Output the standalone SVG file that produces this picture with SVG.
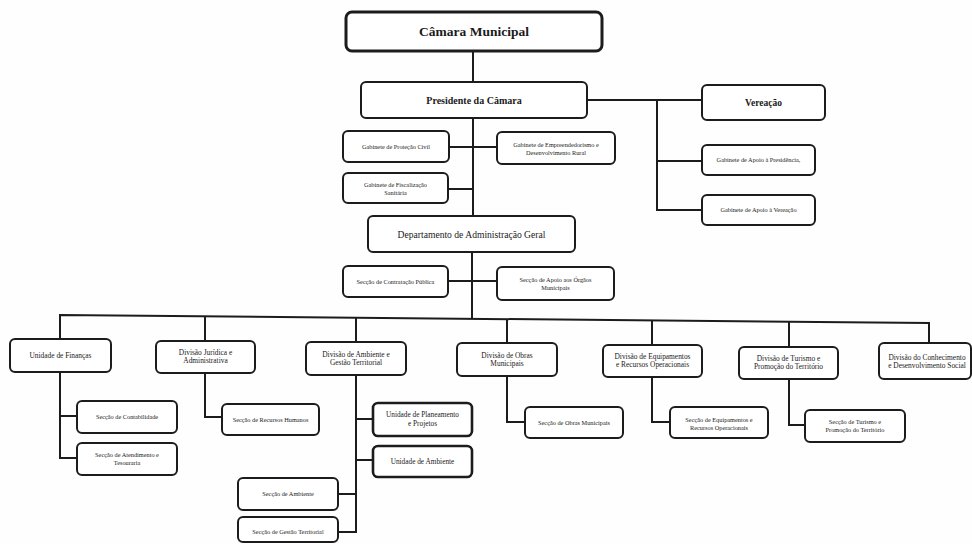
<svg xmlns="http://www.w3.org/2000/svg" width="972" height="544" viewBox="0 0 972 544">
<style>
.bg{fill:#fefefe}
.box{fill:#ffffff;stroke:#1c1c1c;stroke-width:2}
.heavy{stroke-width:3}
.mid{stroke-width:2.6}
.con{fill:none;stroke:#1c1c1c;stroke-width:2;stroke-linejoin:miter}
text{font-family:"Liberation Serif","Times New Roman",serif;fill:#1a1a1a;text-anchor:middle}
.t1{font-size:13.5px;font-weight:bold}
.t2{font-size:10px;font-weight:bold}
.t3{font-size:9.6px}
.div{font-size:7.4px}
.sm{font-size:6.3px}
</style>
<rect class="bg" x="0" y="0" width="972" height="544"/>
<g id="connectors">
<path class="con" d="M473 51V82"/>
<path class="con" d="M473 118V216"/>
<path class="con" d="M472 252V319"/>
<path class="con" d="M587 100H702"/>
<path class="con" d="M657 100V210H702M657 161H702"/>
<path class="con" d="M449 147H497M448 189H473"/>
<path class="con" d="M448 281H497"/>
<path class="con" d="M60 339V315L929 323V343"/>
<path class="con" d="M205 316.3V341M356 317.7V342M507 319.1V343M652 320.4V345M789 321.7V347"/>
<path class="con" d="M60 372V458H77M60 416H77"/>
<path class="con" d="M205 373V417H222"/>
<path class="con" d="M356 375V532H338M356 419H373M356 460H373M338 494H356"/>
<path class="con" d="M507 376V422H525"/>
<path class="con" d="M652 377V422H670"/>
<path class="con" d="M789 379V425H805"/>
</g>
<g id="camara-municipal"><rect class="box heavy" x="346" y="12" width="256" height="39" rx="6"/><text class="t1" x="474" y="36">Câmara Municipal</text></g>
<g id="presidente"><rect class="box" x="361" y="82" width="226" height="36" rx="5"/><text class="t2" x="474" y="103.5">Presidente da Câmara</text></g>
<g id="vereacao"><rect class="box" x="702" y="85" width="123" height="35" rx="5"/><text class="t2" x="763.5" y="106" style="font-size:9.5px">Vereação</text></g>
<g id="gab-protecao-civil"><rect class="box" x="343" y="131" width="106" height="31" rx="5"/><text class="sm" x="396" y="148.7">Gabinete de Proteção Civil</text></g>
<g id="gab-empreendedorismo"><rect class="box" x="497" y="132" width="118" height="32" rx="5"/><text class="sm" x="556" y="146.5">Gabinete de Empreendedorismo e</text><text class="sm" x="556" y="154.5">Desenvolvimento Rural</text></g>
<g id="gab-fiscalizacao"><rect class="box" x="343" y="173" width="105" height="30" rx="5"/><text class="sm" x="395.5" y="187">Gabinete de Fiscalização</text><text class="sm" x="395.5" y="195">Sanitária</text></g>
<g id="gab-apoio-presidencia"><rect class="box" x="702" y="145" width="113" height="30" rx="5"/><text class="sm" x="758.5" y="162">Gabinete de Apoio à Presidência,</text></g>
<g id="gab-apoio-vereacao"><rect class="box" x="702" y="195" width="113" height="30" rx="5"/><text class="sm" x="758.5" y="212">Gabinete de Apoio à Vereação</text></g>
<g id="departamento"><rect class="box" x="368" y="216" width="207" height="36" rx="5"/><text class="t3" x="471.5" y="237.5">Departamento de Administração Geral</text></g>
<g id="sec-contratacao"><rect class="box" x="343" y="266" width="105" height="31" rx="5"/><text class="sm" x="395.5" y="283.7">Secção de Contratação Pública</text></g>
<g id="sec-apoio-orgaos"><rect class="box" x="497" y="267" width="117" height="33" rx="5"/><text class="sm" x="555.5" y="281.5">Secção de Apoio aos Órgãos</text><text class="sm" x="555.5" y="289.5">Municipais</text></g>
<g id="unidade-financas"><rect class="box" x="10" y="339" width="101" height="33" rx="5"/><text class="div" x="60.5" y="358">Unidade de Finanças</text></g>
<g id="div-juridica"><rect class="box" x="156" y="341" width="99" height="32" rx="5"/><text class="div" x="205.5" y="355">Divisão Jurídica e</text><text class="div" x="205.5" y="363">Administrativa</text></g>
<g id="div-ambiente"><rect class="box" x="306" y="342" width="100" height="33" rx="5"/><text class="div" x="356" y="356.5">Divisão de Ambiente e</text><text class="div" x="356" y="364.5">Gestão Territorial</text></g>
<g id="div-obras"><rect class="box" x="457" y="343" width="100" height="33" rx="5"/><text class="div" x="507" y="357.5">Divisão de Obras</text><text class="div" x="507" y="365.5">Municipais</text></g>
<g id="div-equipamentos"><rect class="box" x="603" y="345" width="99" height="32" rx="5"/><text class="div" x="652.5" y="359">Divisão de Equipamentos</text><text class="div" x="652.5" y="367">e Recursos Operacionais</text></g>
<g id="div-turismo"><rect class="box" x="739" y="347" width="99" height="32" rx="5"/><text class="div" x="788.5" y="361">Divisão de Turismo e</text><text class="div" x="788.5" y="369">Promoção do Território</text></g>
<g id="div-conhecimento"><rect class="box" x="879" y="343" width="92" height="36" rx="5"/><text class="div" x="927" y="359.5">Divisão do Conhecimento</text><text class="div" x="927" y="367.5">e Desenvolvimento Social</text></g>
<g id="sec-contabilidade"><rect class="box" x="77" y="401" width="100" height="32" rx="5"/><text class="sm" x="127" y="419">Secção de Contabilidade</text></g>
<g id="sec-atendimento"><rect class="box" x="77" y="443" width="100" height="32" rx="5"/><text class="sm" x="127" y="457">Secção de Atendimento e</text><text class="sm" x="127" y="465">Tesouraria</text></g>
<g id="sec-recursos-humanos"><rect class="box" x="222" y="404" width="97" height="31" rx="5"/><text class="sm" x="270.5" y="421.7">Secção de Recursos Humanos</text></g>
<g id="un-planeamento"><rect class="box mid" x="373" y="403" width="99" height="33" rx="5"/><text class="div" x="422.5" y="417" style="font-size:7.3px">Unidade de Planeamento</text><text class="div" x="422.5" y="425.5" style="font-size:7.3px">e Projetos</text></g>
<g id="un-ambiente"><rect class="box mid" x="373" y="446" width="99" height="31" rx="5"/><text class="div" x="422.5" y="464" style="font-size:7.3px">Unidade de Ambiente</text></g>
<g id="sec-ambiente"><rect class="box" x="238" y="478" width="100" height="32" rx="5"/><text class="sm" x="288" y="496">Secção de Ambiente</text></g>
<g id="sec-gestao-territorial"><rect class="box" x="238" y="517" width="100" height="25" rx="5"/><text class="sm" x="288" y="534">Secção de Gestão Territorial</text></g>
<g id="sec-obras"><rect class="box" x="525" y="407" width="98" height="31" rx="5"/><text class="sm" x="574" y="424.7">Secção de Obras Municipais</text></g>
<g id="sec-equipamentos"><rect class="box" x="670" y="407" width="98" height="31" rx="5"/><text class="sm" x="719" y="422">Secção de Equipamentos e</text><text class="sm" x="719" y="429.5">Recursos Operacionais</text></g>
<g id="sec-turismo"><rect class="box" x="805" y="410" width="100" height="32" rx="5"/><text class="sm" x="855" y="424">Secção de Turismo e</text><text class="sm" x="855" y="431.5">Promoção do Território</text></g>
</svg>
